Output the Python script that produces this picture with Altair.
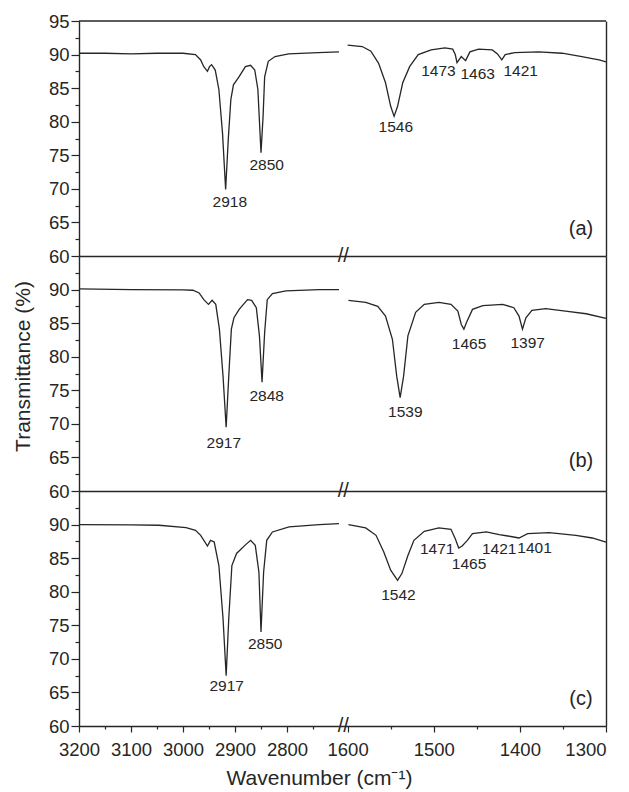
import altair as alt
import pandas as pd

# ---------------- data ----------------
A_LEFT_WN = [3200, 3150, 3100, 3050, 3000, 2976, 2966, 2960, 2953, 2949, 2945, 2938, 2931, 2924, 2918,
             2913, 2908, 2903, 2893, 2880, 2870, 2862, 2856, 2850, 2846, 2843, 2836, 2823, 2797, 2740, 2700]
A_LEFT_T = [90.2, 90.2, 90.1, 90.2, 90.2, 90.0, 89.2, 88.2, 87.5, 88.2, 88.5, 87.7, 84.8, 78.3, 69.9,
            77.3, 83.3, 85.5, 86.6, 88.2, 88.4, 87.7, 84.8, 75.4, 80.8, 86.7, 89.0, 89.7, 90.1, 90.3, 90.4]
A_RIGHT_WN = [1600, 1583, 1573, 1564, 1556, 1550, 1546, 1542, 1536, 1528, 1518, 1503, 1487, 1478, 1475,
              1473, 1468, 1463, 1458, 1448, 1432, 1426, 1421, 1417, 1406, 1378, 1351, 1328, 1316, 1308, 1300]
A_RIGHT_T = [91.4, 91.2, 90.5, 88.7, 85.8, 82.3, 80.8, 82.3, 85.8, 88.2, 90.0, 90.7, 91.0, 90.8, 90.0,
             88.8, 89.7, 89.1, 90.4, 90.8, 90.7, 90.1, 89.2, 90.0, 90.3, 90.4, 90.2, 89.7, 89.4, 89.2, 88.9]

B_LEFT_WN = [3200, 3100, 3000, 2981, 2969, 2960, 2951, 2944, 2937, 2930, 2923, 2917, 2912, 2907, 2902,
             2892, 2876, 2868, 2859, 2853, 2848, 2843, 2838, 2828, 2802, 2738, 2700]
B_LEFT_T = [90.1, 90.0, 89.95, 89.9, 89.5, 88.5, 87.8, 88.4, 87.8, 84.1, 77.1, 69.5, 77.1, 84.1, 85.8,
            87.05, 88.5, 88.4, 87.3, 83.1, 76.2, 83.6, 88.5, 89.4, 89.8, 90.0, 90.0]
B_RIGHT_WN = [1599, 1579, 1565, 1556, 1548, 1543, 1539, 1535, 1530, 1521, 1511, 1494, 1480, 1472, 1468,
              1465, 1462, 1455, 1443, 1420, 1407, 1401, 1397, 1393, 1386, 1370, 1347, 1323, 1300]
B_RIGHT_T = [88.4, 88.1, 87.5, 86.05, 82.6, 77.1, 73.9, 77.1, 83.1, 86.6, 87.8, 88.1, 87.8, 86.8, 84.8,
             84.1, 85.1, 87.05, 87.6, 87.8, 87.3, 86.05, 84.1, 85.8, 86.9, 87.15, 86.8, 86.4, 85.7]

C_LEFT_WN = [3200, 3100, 3046, 2994, 2976, 2966, 2953, 2947, 2940, 2931, 2923, 2917, 2912, 2906, 2897,
             2881, 2870, 2861, 2854, 2850, 2845, 2839, 2828, 2796, 2738, 2700]
C_LEFT_T = [90.0, 89.95, 89.9, 89.55, 89.15, 88.4, 86.8, 87.65, 87.4, 83.9, 76.0, 67.5, 76.0, 83.9, 85.7,
            86.9, 87.65, 86.9, 82.9, 74.0, 82.9, 87.65, 88.9, 89.65, 90.0, 90.15]
C_RIGHT_WN = [1599, 1579, 1567, 1558, 1550, 1542, 1537, 1530, 1523, 1511, 1494, 1480, 1475, 1471, 1467,
              1461, 1455, 1439, 1424, 1414, 1401, 1391, 1366, 1335, 1316, 1300]
C_RIGHT_T = [90.0, 89.5, 88.4, 85.9, 83.2, 81.7, 82.7, 85.4, 87.65, 89.0, 89.5, 89.3, 87.9, 86.5, 86.8,
             87.65, 88.65, 88.9, 88.5, 88.3, 88.0, 88.65, 88.8, 88.4, 88.0, 87.4]

# peak annotations: text, wavenumber position, transmittance position
A_LEFT_ANN = (["2918", "2850"], [2910, 2839], [68.0, 73.5])
A_RIGHT_ANN = (["1546", "1473", "1463", "1421"], [1544, 1494.5, 1449, 1399], [79.2, 87.6, 87.1, 87.5])
B_LEFT_ANN = (["2917", "2848"], [2921.5, 2839], [67.1, 74.2])
B_RIGHT_ANN = (["1539", "1465", "1397"], [1533, 1459, 1391], [71.7, 81.85, 82.1])
C_LEFT_ANN = (["2917", "2850"], [2916, 2842], [65.9, 72.2])
C_RIGHT_ANN = (["1542", "1471", "1465", "1421", "1401"], [1541, 1496, 1459, 1424, 1383],
               [79.55, 86.3, 84.2, 86.3, 86.5])

PANEL_TAGS = ["(a)", "(b)", "(c)"]
PANEL_TAG_T = [64.0, 64.5, 64.0]
PANEL_TAG_WN = 1329

LEFT_DOMAIN = [3200, 2700]
RIGHT_DOMAIN = [1610, 1300]
Y_DOMAIN = [60, 95]
LEFT_TICKS = [3200, 3150, 3100, 3050, 3000, 2950, 2900, 2850, 2800, 2750]
RIGHT_TICKS = [1600, 1550, 1500, 1450, 1400, 1350, 1300]
Y_TICKS_TOP = [60, 62.5, 65, 67.5, 70, 72.5, 75, 77.5, 80, 82.5, 85, 87.5, 90, 92.5, 95]
Y_TICKS_REST = Y_TICKS_TOP[:-1]

# ---------------- style ----------------
FONT = "Liberation Sans"
INK = "#262626"
LEFT_W, RIGHT_W, PANEL_H = 260, 267, 235


def x_enc(side, bottom):
    dom = LEFT_DOMAIN if side == "left" else RIGHT_DOMAIN
    if bottom:
        ticks = LEFT_TICKS if side == "left" else RIGHT_TICKS
        kw = dict(values=ticks, format="d",
                  labelExpr="datum.value % 100 === 0 ? datum.label : ''",
                  tickSize={"condition": {"test": "datum.value % 100 === 0", "value": 6}, "value": 3},
                  labelAlign={"condition": {"test": "datum.value === 1300", "value": "right"},
                              "value": "center"},
                  labelFontSize=18.5, labelPadding=8, labelColor=INK, labelOverlap=False,
                  labelFlush=False, tickColor=INK, tickWidth=1.2)
        if side == "left":
            kw.update(title="Wavenumber (cm⁻¹)", titleFontSize=21, titleFontWeight="normal",
                      titleColor=INK, titleX=240, titlePadding=9)
        else:
            kw.update(title=None)
    else:
        kw = dict(ticks=False, labels=False, title=None)
    return alt.X("wn:Q", scale=alt.Scale(domain=dom, nice=False, zero=False),
                 axis=alt.Axis(domainColor=INK, domainWidth=1.4, grid=False, **kw))


def y_enc(side, row):
    if side == "left":
        kw = dict(values=Y_TICKS_TOP if row == 0 else Y_TICKS_REST,
                  labelExpr="datum.value % 5 === 0 ? datum.label : ''",
                  tickSize={"condition": {"test": "datum.value % 5 === 0", "value": 8}, "value": 4},
                  labelFontSize=18.5, labelPadding=2, labelColor=INK, labelOverlap=False,
                  labelFlush=False, tickColor=INK, tickWidth=1.2)
        if row == 1:
            kw.update(title="Transmittance (%)", titleFontSize=21, titleFontWeight="normal",
                      titleColor=INK, titlePadding=15, titleY=110)
        else:
            kw.update(title=None)
    else:
        kw = dict(orient="right", ticks=False, labels=False, title=None)
    return alt.Y("t:Q", scale=alt.Scale(domain=Y_DOMAIN, nice=False, zero=False),
                 axis=alt.Axis(domainColor=INK, domainWidth=1.4, grid=False, **kw))


def panel(wn, t, ann, side, row):
    bottom = row == 2
    xe, ye = x_enc(side, bottom), y_enc(side, row)
    line = alt.Chart(pd.DataFrame({"wn": wn, "t": t})).mark_line(
        color=INK, strokeWidth=1.3).encode(x=xe, y=ye)
    labels = alt.Chart(pd.DataFrame({"label": ann[0], "wn": ann[1], "t": ann[2]})).mark_text(
        font=FONT, fontSize=15.5, color=INK, baseline="middle", align="center").encode(
        x=xe, y=ye, text="label:N")
    layers = [line, labels]
    if row == 0:
        layers.append(alt.Chart(pd.DataFrame({"t": [95]})).mark_rule(
            color=INK, strokeWidth=1.4).encode(y=ye))
    if side == "right":
        layers.append(alt.Chart(pd.DataFrame({"label": [PANEL_TAGS[row]], "wn": [PANEL_TAG_WN],
                                              "t": [PANEL_TAG_T[row]]})).mark_text(
            font=FONT, fontSize=20, color=INK, baseline="middle", align="center").encode(
            x=xe, y=ye, text="label:N"))
        layers.append(alt.Chart(pd.DataFrame({"label": ["//"], "wn": [1605], "t": [60]})).mark_text(
            font=FONT, fontSize=20, color=INK, baseline="middle", align="center").encode(
            x=xe, y=ye, text="label:N"))
    return alt.layer(*layers).properties(width=LEFT_W if side == "left" else RIGHT_W,
                                         height=PANEL_H)


panels = []
data = [
    (A_LEFT_WN, A_LEFT_T, A_LEFT_ANN, A_RIGHT_WN, A_RIGHT_T, A_RIGHT_ANN),
    (B_LEFT_WN, B_LEFT_T, B_LEFT_ANN, B_RIGHT_WN, B_RIGHT_T, B_RIGHT_ANN),
    (C_LEFT_WN, C_LEFT_T, C_LEFT_ANN, C_RIGHT_WN, C_RIGHT_T, C_RIGHT_ANN),
]
for r, (lw, lt, la, rw, rt, ra) in enumerate(data):
    panels.append(panel(lw, lt, la, "left", r))
    panels.append(panel(rw, rt, ra, "right", r))

chart = alt.concat(*panels, columns=2, spacing=0, bounds="flush").properties(
    padding={"left": 4, "top": 4, "right": 2, "bottom": 0}
).configure_view(stroke=None).configure_axis(labelFont=FONT, titleFont=FONT)

chart.save("out.html", embed_options={"renderer": "svg", "actions": False})
